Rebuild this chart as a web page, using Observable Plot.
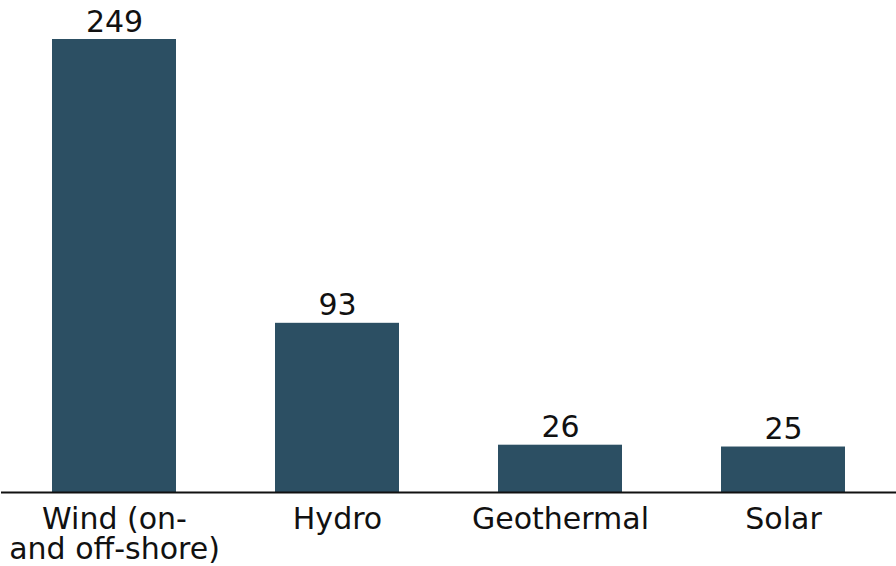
<!DOCTYPE html>
<html>
<head>
<meta charset="utf-8">
<script src="https://cdn.jsdelivr.net/npm/d3@7"></script>
<script src="https://cdn.jsdelivr.net/npm/@observablehq/plot@0.6"></script>
<style>
  html, body { margin: 0; padding: 0; background: #fff; }
  #chart svg { display: block; }
</style>
</head>
<body>
<div id="chart"></div>
<script>
// Renewable sources and their values
const sources = ["Wind (on-\nand off-shore)", "Hydro", "Geothermal", "Solar"];
const values = [249, 93, 26, 25];

const rows = sources.map((s, i) => ({source: s, value: values[i]}));

const barColor = "#2c4f63";
const fontFamily = "'DejaVu Sans', sans-serif";

const chart = Plot.plot({
  width: 896,
  height: 566,
  marginTop: 39,
  marginBottom: 74,
  marginLeft: 1,
  marginRight: 0,
  style: {fontFamily, fontSize: "30px", color: "#111", background: "#fff"},
  x: {domain: sources, paddingInner: 0.446, paddingOuter: 0.223, label: null},
  y: {domain: [0, 249], axis: null},
  marks: [
    Plot.barY(rows, {x: "source", y: "value", fill: barColor}),
    Plot.ruleY([0], {stroke: "#111", strokeWidth: 2}),
    Plot.text(rows, {
      x: "source", y: "value", text: d => String(d.value),
      dy: -8, lineAnchor: "bottom", fontSize: 30, fill: "#111"
    }),
    Plot.axisX({tickSize: 0, tickPadding: 15, fontSize: 30, label: null, lineHeight: 1.0})
  ]
});

document.getElementById("chart").appendChild(chart);
</script>
</body>
</html>
